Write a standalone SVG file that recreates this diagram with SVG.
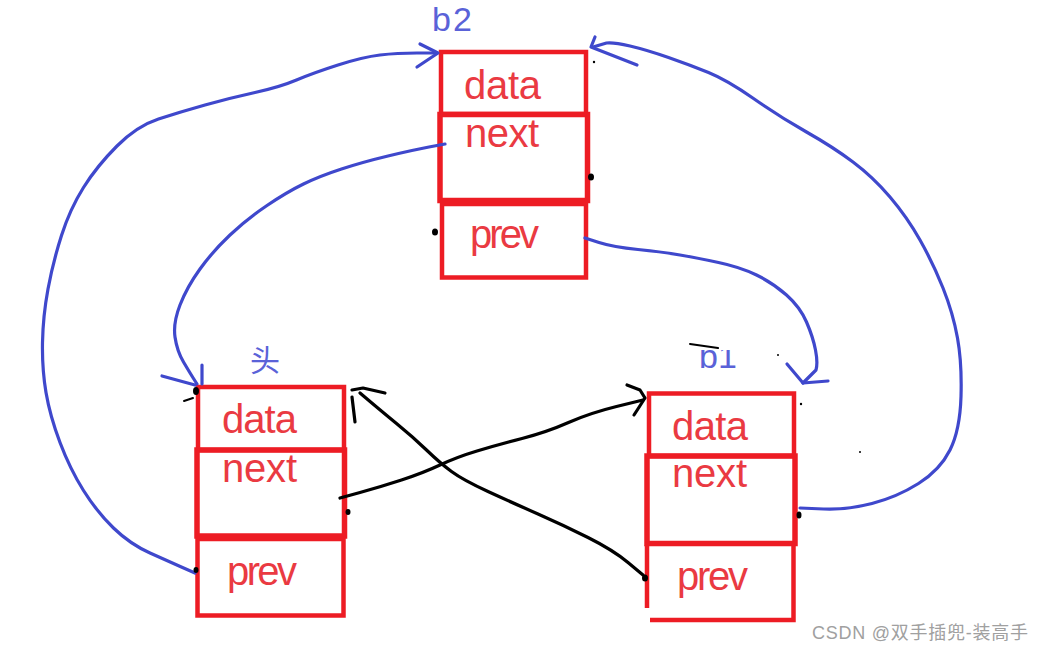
<svg xmlns="http://www.w3.org/2000/svg" width="1044" height="652" viewBox="0 0 1044 652">
<style>
.box{fill:none;stroke:#ED1C24;stroke-width:4.5}
.thick{stroke-width:5.5}
.ft{font-family:"Liberation Sans",Arial,sans-serif;font-size:40px;fill:#EA3A42}
.lbl{font-family:"Liberation Sans","Noto Sans CJK SC",sans-serif;font-size:34px;fill:#5A62D8}
.blue{fill:none;stroke:#3F48CC;stroke-width:3.2;stroke-linecap:round;stroke-linejoin:round}
.black{fill:none;stroke:#000;stroke-width:3.2;stroke-linecap:round;stroke-linejoin:round}
.dot{fill:#000}
.wm{font-family:"Liberation Sans","Noto Sans CJK SC",sans-serif;font-size:18px;fill:#A0A0A0}
</style>
<defs>
<clipPath id="b1clip"><rect x="680" y="350" width="80" height="30"/></clipPath>
</defs>

<g id="node-b2">
<text class="lbl" x="432" y="31" textLength="40">b2</text>
<rect class="box" x="441" y="52" width="145" height="62"/>
<rect class="box thick" x="440" y="114.5" width="147.5" height="86"/>
<rect class="box" x="442" y="204" width="144" height="73.5"/>
<text class="ft" x="464" y="99" textLength="77">data</text>
<text class="ft" x="465" y="147" textLength="74">next</text>
<text class="ft" x="470" y="248" textLength="69">prev</text>
</g>

<g id="node-head">
<text class="lbl" x="250" y="371" style="font-family:'Noto Sans CJK SC',sans-serif;font-size:30px">头</text>
<rect class="box" x="198" y="387" width="146" height="63"/>
<rect class="box thick" x="197" y="450" width="147.5" height="86"/>
<rect class="box" x="197.5" y="539" width="146" height="76.5"/>
<text class="ft" x="222" y="433" textLength="75">data</text>
<text class="ft" x="222" y="482" textLength="75">next</text>
<text class="ft" x="227" y="585" textLength="70">prev</text>
</g>

<g id="node-b1">
<text class="lbl" x="699" y="368" clip-path="url(#b1clip)" textLength="38">b1</text>
<rect class="box" x="649" y="393.5" width="145" height="62.5"/>
<rect class="box thick" x="647" y="456" width="148" height="87.5"/>
<path class="box" d="M647,545 V608 M650,620 H793.5 V545"/>
<text class="ft" x="672" y="440" textLength="76">data</text>
<text class="ft" x="672" y="487" textLength="75">next</text>
<text class="ft" x="677" y="590" textLength="71">prev</text>
</g>

<g id="connectors">
<!-- head.prev -> b2.data -->
<path class="blue" d="M195,573 L182.5,567.5 Q170,562 150,553 Q130,544 113.5,528 Q97,512 83.5,490.5 Q70,469 60,442.5 Q50,416 46,392.5 Q42,369 42.5,342.5 Q43,316 48,289 Q53,262 61.5,235.5 Q70,209 83.5,187.5 Q97,166 117,146 Q137,126 158.5,119 Q180,112 205,105 Q230,98 255,92.5 Q280,87 296.5,80 Q313,73 338,65 Q363,57 380,55 Q397,53 417,53 L437,53"/>
<polyline class="blue" points="420,44 438,53 417,67"/>
<!-- b2.next -> head.data -->
<path class="blue" d="M445,144 L429,147 Q413,150 388,156 Q363,162 341.5,169 Q320,176 303.5,184 Q287,192 267,205.5 Q247,219 230,235 Q213,251 200,269 Q187,287 180,305 Q173,323 175,337 Q177,351 183.5,362 Q190,373 193.5,378.5 L197,384"/>
<polyline class="blue" points="162,376 195,385"/>
<polyline class="blue" points="202,365 202,384"/>
<!-- b2.prev -> b1.data -->
<path class="blue" d="M585,238 L599,242.5 Q613,247 638,249.5 Q663,252 680,255 Q697,258 718.5,262.5 Q740,267 756.5,275 Q773,283 786.5,295 Q800,307 806.5,322 Q813,337 815.5,350 Q818,363 816,370 L803,383"/>
<polyline class="blue" points="787,364 803,383 828,381"/>
<!-- b1.next -> b2.data -->
<path class="blue" d="M800,508 L823.5,509 Q847,510 872,503.5 Q897,497 918.5,483.5 Q940,470 950,450 Q960,430 961,396.5 Q962,363 957.5,338 Q953,313 943,288 Q933,263 920,240 Q907,217 890,197 Q873,177 853,162 Q833,147 806.5,132 Q780,117 753.5,98.5 Q727,80 708.5,72.5 Q690,65 668.5,57.5 Q647,50 630,46 Q613,42 606.5,43 L593,47"/>
<polyline class="blue" points="595,37 591,47 637,65"/>
<!-- head.next -> b1.data -->
<path class="black" d="M340,498 L360,492.5 Q380,487 401.5,480 Q423,473 440,465 Q457,457 477,451 Q497,445 522,438.5 Q547,432 568.5,422.5 Q590,413 616.5,406.5 L643,400"/>
<polyline class="black" points="627,385 640,390 645,398 634,415"/>
<!-- b1.prev -> head.data -->
<path class="black" d="M643,575 L628,562.5 Q613,550 588,537.5 Q563,525 538,514 Q513,503 488,491.5 Q463,480 451.5,471.5 Q440,463 426.5,450 Q413,437 396.5,423.5 Q380,410 360,393"/>
<polyline class="black" points="385,393 363,388 352,390"/>
<polyline class="black" points="352,397 355,422"/>
<!-- ink blobs -->
<ellipse class="dot" cx="591" cy="177" rx="3" ry="3.5"/>
<ellipse class="dot" cx="435" cy="232" rx="3" ry="3.5"/>
<ellipse class="dot" cx="348" cy="512" rx="2.5" ry="3"/>
<ellipse class="dot" cx="196" cy="570" rx="2.5" ry="3"/>
<ellipse class="dot" cx="196" cy="391" rx="3" ry="4"/>
<polyline class="black" points="184,401 193,398" style="stroke-width:2"/>
<ellipse class="dot" cx="799" cy="515" rx="2.5" ry="3.5"/>
<ellipse class="dot" cx="645" cy="578" rx="3" ry="3.5"/>
<polyline class="black" points="690,344 718,348" style="stroke-width:2"/>
<circle class="dot" cx="594" cy="62" r="1.2"/>
<circle class="dot" cx="801" cy="404" r="1.2"/>
<circle class="dot" cx="778" cy="355" r="1"/>
<circle class="dot" cx="860" cy="452" r="1"/>
</g>

<text class="wm" x="812" y="639" textLength="216">CSDN @双手插兜-装高手</text>
</svg>
